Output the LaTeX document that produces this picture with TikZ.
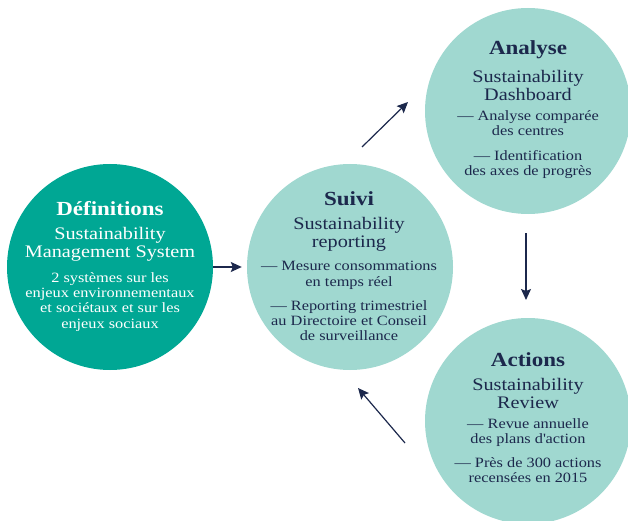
\documentclass[tikz,border=0pt]{standalone}
\usepackage{fontspec}
\setmainfont[FakeStretch=1.15]{Liberation Serif}
\usepackage{tikz}
\usepackage{xcolor}
\usetikzlibrary{positioning, arrows.meta}

\definecolor{darkteal}{RGB}{0,167,148}
\definecolor{lightteal}{RGB}{160,216,208}
\definecolor{navyink}{RGB}{28,40,76}

\begin{document}
\begin{tikzpicture}[x=1pt, y=-1pt,
        bubble/.style={circle, minimum size=206pt, inner sep=0pt, fill=lightteal},
        headtext/.style={inner sep=0pt, text=navyink, font=\fontsize{20}{22}\selectfont\bfseries},
        subtext/.style={inner sep=0pt, align=center, text=navyink, font=\fontsize{17.6}{17.5}\selectfont},
        bodytext/.style={inner sep=0pt, align=center, text=navyink, font=\fontsize{14.2}{15.3}\selectfont},
        flow/.style={draw=navyink, line width=1.2pt, -{Stealth[length=11pt, width=10pt, inset=2pt]}}]
        \useasboundingbox (0,0) rectangle (628,521);

        % the four circles
        \node[bubble, fill=darkteal] (def) at (110,267) {};
        \node[bubble] (suivi) at (350,267) {};
        \node[bubble] (analyse) at (528,111) {};
        \node[bubble] (actions) at (528,421) {};

        % Definitions
        \node[headtext, text=white] (defHead) at (110,209) {Définitions};
        \node[subtext, text=white, below=11pt of defHead] (defSub) {Sustainability\\Management System};
        \node[bodytext, text=white, below=11pt of defSub] (defBody) {2 systèmes sur les\\enjeux environnementaux\\et sociétaux et sur les\\enjeux sociaux};

        % Suivi
        \node[headtext] (suiviHead) at (349,199) {Suivi};
        \node[subtext, below=11pt of suiviHead] (suiviSub) {Sustainability\\reporting};
        \node[bodytext, below=10pt of suiviSub] (suiviBody) {— Mesure consommations\\en temps réel\\[9pt]— Reporting trimestriel\\au Directoire et Conseil\\de surveillance};

        % Analyse
        \node[headtext] (analyseHead) at (528,50) {Analyse};
        \node[subtext, below=11pt of analyseHead] (analyseSub) {Sustainability\\Dashboard};
        \node[bodytext, below=10pt of analyseSub] (analyseBody) {— Analyse comparée\\des centres\\[9pt]— Identification\\des axes de progrès};

        % Actions
        \node[headtext] (actionsHead) at (528,360) {Actions};
        \node[subtext, below=11pt of actionsHead] (actionsSub) {Sustainability\\Review};
        \node[bodytext, below=10pt of actionsSub] (actionsBody) {— Revue annuelle\\des plans d\textquotesingle action\\[8pt]— Près de 300 actions\\recensées en 2015};

        % free arrow ends
        \coordinate (upTail) at (362,147);
        \coordinate (upTip) at (408,102);
        \coordinate (downTail) at (526,233);
        \coordinate (downTip) at (526,300);
        \coordinate (backTail) at (405,443);
        \coordinate (backTip) at (358,388);

        \draw[flow, shorten >=5pt] (def) -- (suivi);
        \draw[flow] (upTail) -- (upTip);
        \draw[flow] (downTail) -- (downTip);
        \draw[flow] (backTail) -- (backTip);
\end{tikzpicture}
\end{document}
